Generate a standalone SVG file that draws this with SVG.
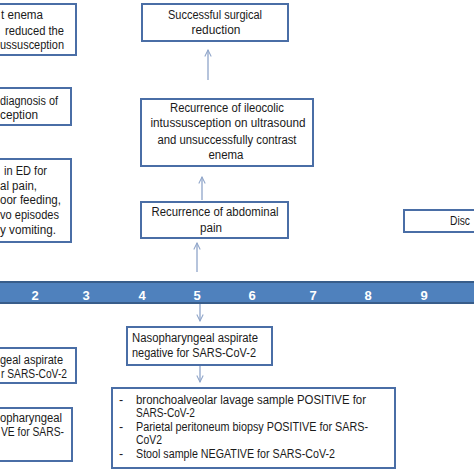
<svg xmlns="http://www.w3.org/2000/svg" width="474" height="474" viewBox="0 0 474 474">
<style>
.box{fill:#fff;stroke:#4a6ea6;stroke-width:2}
.t{font-family:"Liberation Sans",Arial,sans-serif;font-size:12.5px;fill:#1a1a1a}
.c{text-anchor:middle}
.n{font-family:"Liberation Sans",Arial,sans-serif;font-size:13px;font-weight:bold;fill:#fff;text-anchor:middle}
.arr{stroke:#8fa5c9;stroke-width:1.3;fill:none;marker-end:url(#ah)}
</style>
<defs>
<marker id="ah" viewBox="0 0 10 10" refX="9" refY="5" markerWidth="8" markerHeight="8" markerUnits="userSpaceOnUse" orient="auto">
<path d="M1,1 L9,5 L1,9" fill="none" stroke="#8fa5c9" stroke-width="1.3"/>
</marker>
</defs>
<rect width="474" height="474" fill="#fff"/>

<g id="timeline">
<rect x="-2" y="282" width="478" height="21" fill="#4f81bd" stroke="#385d8a" stroke-width="2"/>
<text class="n" x="35" y="300">2</text>
<text class="n" x="86" y="300">3</text>
<text class="n" x="142" y="300">4</text>
<text class="n" x="197" y="300">5</text>
<text class="n" x="252" y="300">6</text>
<text class="n" x="313" y="300">7</text>
<text class="n" x="368" y="300">8</text>
<text class="n" x="424" y="300">9</text>
</g>

<g id="enema-reduced">
<rect class="box" x="-10" y="4" width="86" height="51"/>
<text class="t" x="1" y="19" textLength="42" lengthAdjust="spacingAndGlyphs">t enema</text>
<text class="t" x="5" y="35" textLength="59" lengthAdjust="spacingAndGlyphs">reduced the</text>
<text class="t" x="0" y="49" textLength="64" lengthAdjust="spacingAndGlyphs">ussusception</text>
</g>

<g id="diagnosis">
<rect class="box" x="-10" y="88" width="81" height="37"/>
<text class="t" x="0" y="105" textLength="58" lengthAdjust="spacingAndGlyphs">diagnosis of</text>
<text class="t" x="0" y="119" textLength="38" lengthAdjust="spacingAndGlyphs">ception</text>
</g>

<g id="ed-admission">
<rect class="box" x="-10" y="159" width="81" height="83"/>
<text class="t" x="4" y="175" textLength="43" lengthAdjust="spacingAndGlyphs">in ED for</text>
<text class="t" x="0" y="190" textLength="37" lengthAdjust="spacingAndGlyphs">al pain,</text>
<text class="t" x="0" y="204" textLength="61" lengthAdjust="spacingAndGlyphs">oor feeding,</text>
<text class="t" x="0" y="219" textLength="59" lengthAdjust="spacingAndGlyphs">vo episodes</text>
<text class="t" x="0" y="234" textLength="56" lengthAdjust="spacingAndGlyphs">y vomiting.</text>
</g>

<g id="surgical-reduction">
<rect class="box" x="142" y="4" width="146" height="37"/>
<text class="t c" x="215" y="19" textLength="94" lengthAdjust="spacingAndGlyphs">Successful surgical</text>
<text class="t c" x="216" y="34" textLength="49" lengthAdjust="spacingAndGlyphs">reduction</text>
</g>

<g id="recurrence-ileocolic">
<rect class="box" x="141" y="99" width="172" height="67"/>
<text class="t c" x="227" y="112" textLength="114" lengthAdjust="spacingAndGlyphs">Recurrence of ileocolic</text>
<text class="t c" x="228" y="127" textLength="155" lengthAdjust="spacingAndGlyphs">intussusception on ultrasound</text>
<text class="t c" x="227" y="144" textLength="139" lengthAdjust="spacingAndGlyphs">and unsuccessfully contrast</text>
<text class="t c" x="226" y="159" textLength="35" lengthAdjust="spacingAndGlyphs">enema</text>
</g>

<g id="recurrence-pain">
<rect class="box" x="141" y="202" width="147" height="36"/>
<text class="t c" x="215" y="216" textLength="127" lengthAdjust="spacingAndGlyphs">Recurrence of abdominal</text>
<text class="t c" x="211" y="232" textLength="22" lengthAdjust="spacingAndGlyphs">pain</text>
</g>

<g id="discharge">
<rect class="box" x="404" y="210" width="80" height="22"/>
<text class="t" x="450" y="225" textLength="20" lengthAdjust="spacingAndGlyphs">Disc</text>
</g>

<g id="np-aspirate-negative">
<rect class="box" x="127" y="327" width="145" height="38"/>
<text class="t" x="132" y="342" textLength="126" lengthAdjust="spacingAndGlyphs">Nasopharyngeal aspirate</text>
<text class="t" x="132" y="357" textLength="124" lengthAdjust="spacingAndGlyphs">negative for SARS-CoV-2</text>
</g>

<g id="samples">
<rect class="box" x="112" y="388" width="283" height="80"/>
<text class="t" x="119" y="404">-</text>
<text class="t" x="136" y="404" textLength="230" lengthAdjust="spacingAndGlyphs">bronchoalveolar lavage  sample POSITIVE  for</text>
<text class="t" x="136" y="417" textLength="59" lengthAdjust="spacingAndGlyphs">SARS-CoV-2</text>
<text class="t" x="119" y="431">-</text>
<text class="t" x="136" y="431" textLength="232" lengthAdjust="spacingAndGlyphs">Parietal peritoneum biopsy POSITIVE for SARS-</text>
<text class="t" x="136" y="444" textLength="26" lengthAdjust="spacingAndGlyphs">CoV2</text>
<text class="t" x="119" y="458">-</text>
<text class="t" x="136" y="458" textLength="199" lengthAdjust="spacingAndGlyphs">Stool sample NEGATIVE for SARS-CoV-2</text>
</g>

<g id="np-aspirate-left">
<rect class="box" x="-10" y="348" width="86" height="35"/>
<text class="t" x="0" y="364" textLength="63" lengthAdjust="spacingAndGlyphs">geal aspirate</text>
<text class="t" x="1" y="378" textLength="66" lengthAdjust="spacingAndGlyphs">r SARS-CoV-2</text>
</g>

<g id="np-positive-left">
<rect class="box" x="-10" y="408" width="82" height="53"/>
<text class="t" x="0" y="422" textLength="62" lengthAdjust="spacingAndGlyphs">opharyngeal</text>
<text class="t" x="1" y="436" textLength="63" lengthAdjust="spacingAndGlyphs">VE for SARS-</text>
</g>

<g id="connectors">
<line class="arr" x1="208" y1="80" x2="208" y2="50"/>
<line class="arr" x1="202" y1="200" x2="202" y2="177"/>
<line class="arr" x1="197" y1="272" x2="197" y2="243"/>
<line class="arr" x1="200" y1="304" x2="200" y2="321"/>
<line class="arr" x1="200" y1="366" x2="200" y2="382"/>
</g>
</svg>
